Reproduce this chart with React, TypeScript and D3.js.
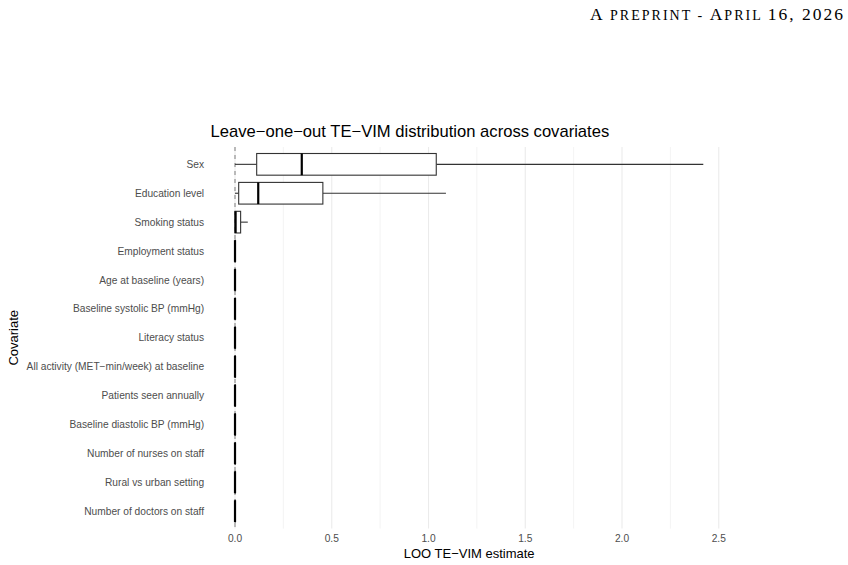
import { useEffect, useRef } from "react";
import * as d3 from "d3";

// covariates, top to bottom
const covariates = [
  "Sex",
  "Education level",
  "Smoking status",
  "Employment status",
  "Age at baseline (years)",
  "Baseline systolic BP (mmHg)",
  "Literacy status",
  "All activity (MET\u2212min/week) at baseline",
  "Patients seen annually",
  "Baseline diastolic BP (mmHg)",
  "Number of nurses on staff",
  "Rural vs urban setting",
  "Number of doctors on staff",
];

// box stats
const whiskerLow = [0.0, 0.0, 0.0, 0, 0, 0, 0, 0, 0, 0, 0, 0, 0];
const q1 = [0.112, 0.019, 0.0, 0, 0, 0, 0, 0, 0, 0, 0, 0, 0];
const median = [0.345, 0.12, 0.003, 0, 0, 0, 0, 0, 0, 0, 0, 0, 0];
const q3 = [1.04, 0.454, 0.029, 0.002, 0.002, 0.002, 0.002, 0.002, 0.002, 0.002, 0.002, 0.002, 0.002];
const whiskerHigh = [2.42, 1.09, 0.066, 0.002, 0.002, 0.002, 0.002, 0.002, 0.002, 0.002, 0.002, 0.002, 0.002];

const xTicks = [0, 0.5, 1.0, 1.5, 2.0, 2.5];
const xMinor = [0.25, 0.75, 1.25, 1.75, 2.25];

const App = () => {
  const ref = useRef<SVGSVGElement>(null);

  useEffect(() => {
    const svg = d3.select(ref.current);
    svg.selectAll("*").remove();

    const panel = { left: 211.6, right: 726.7, top: 147, bottom: 528.5 };
    const font = "Liberation Sans, Arial, Helvetica, sans-serif";

    // header, small caps done by hand
    const head = svg
      .append("text")
      .attr("x", 843)
      .attr("y", 20)
      .attr("text-anchor", "end")
      .attr("font-family", "Liberation Serif, Times New Roman, serif")
      .attr("fill", "#000")
      .attr("textLength", 253)
      .attr("lengthAdjust", "spacing");
    const parts: [string, number][] = [
      ["A ", 17.5],
      ["PREPRINT - ", 14],
      ["A", 17.5],
      ["PRIL ", 14],
      ["16, 2026", 17.5],
    ];
    parts.forEach(([t, s]) => head.append("tspan").attr("font-size", s).text(t));

    const dataMax = d3.max(whiskerHigh) as number;
    const pad = dataMax * 0.05;
    const x = d3
      .scaleLinear()
      .domain([0 - pad, dataMax + pad])
      .range([panel.left, panel.right]);

    // ggplot discrete expansion: 0.6 units each side
    const unit = (panel.bottom - panel.top) / (covariates.length - 1 + 1.2);
    const yc = (i: number) => panel.top + unit * (0.6 + i);

    const g = svg.append("g");

    // grid
    g.selectAll("line.minor")
      .data(xMinor)
      .join("line")
      .attr("x1", (d) => x(d))
      .attr("x2", (d) => x(d))
      .attr("y1", panel.top)
      .attr("y2", panel.bottom)
      .attr("stroke", "#ebebeb")
      .attr("stroke-width", 0.6);
    g.selectAll("line.major")
      .data(xTicks)
      .join("line")
      .attr("x1", (d) => x(d))
      .attr("x2", (d) => x(d))
      .attr("y1", panel.top)
      .attr("y2", panel.bottom)
      .attr("stroke", "#ebebeb")
      .attr("stroke-width", 1.1);

    // reference line at 0
    g.append("line")
      .attr("x1", x(0))
      .attr("x2", x(0))
      .attr("y1", panel.top)
      .attr("y2", panel.bottom)
      .attr("stroke", "#7f7f7f")
      .attr("stroke-width", 1)
      .attr("stroke-dasharray", "4,4");

    const boxH = unit * 0.75;
    const rows = covariates.map((c, i) => ({
      c,
      i,
      lo: whiskerLow[i],
      q1: q1[i],
      med: median[i],
      q3: q3[i],
      hi: whiskerHigh[i],
    }));

    const box = g.selectAll("g.box").data(rows).join("g");
    box
      .append("line")
      .attr("x1", (d) => x(d.lo))
      .attr("x2", (d) => x(d.q1))
      .attr("y1", (d) => yc(d.i))
      .attr("y2", (d) => yc(d.i))
      .attr("stroke", "#333")
      .attr("stroke-width", 1.1);
    box
      .append("line")
      .attr("x1", (d) => x(d.q3))
      .attr("x2", (d) => x(d.hi))
      .attr("y1", (d) => yc(d.i))
      .attr("y2", (d) => yc(d.i))
      .attr("stroke", "#333")
      .attr("stroke-width", 1.1);
    box
      .append("rect")
      .attr("x", (d) => x(d.q1))
      .attr("width", (d) => x(d.q3) - x(d.q1))
      .attr("y", (d) => yc(d.i) - boxH / 2)
      .attr("height", boxH)
      .attr("fill", "#fff")
      .attr("stroke", "#333")
      .attr("stroke-width", 1.1);
    box
      .append("line")
      .attr("x1", (d) => x(d.med))
      .attr("x2", (d) => x(d.med))
      .attr("y1", (d) => yc(d.i) - boxH / 2)
      .attr("y2", (d) => yc(d.i) + boxH / 2)
      .attr("stroke", "#000")
      .attr("stroke-width", 2.2);

    // y labels
    g.selectAll("text.ylab")
      .data(covariates)
      .join("text")
      .attr("x", panel.left - 7.5)
      .attr("y", (_, i) => yc(i))
      .attr("dy", "0.35em")
      .attr("text-anchor", "end")
      .attr("font-family", font)
      .attr("font-size", 10.2)
      .attr("fill", "#4d4d4d")
      .text((d) => d);

    // x tick labels
    g.selectAll("text.xlab")
      .data(xTicks)
      .join("text")
      .attr("x", (d) => x(d))
      .attr("y", panel.bottom + 13.5)
      .attr("text-anchor", "middle")
      .attr("font-family", font)
      .attr("font-size", 10.2)
      .attr("fill", "#4d4d4d")
      .text((d) => d3.format(".1f")(d));

    // axis titles
    svg
      .append("text")
      .attr("x", (panel.left + panel.right) / 2)
      .attr("y", 558)
      .attr("text-anchor", "middle")
      .attr("font-family", font)
      .attr("font-size", 13)
      .attr("fill", "#000")
      .text("LOO TE\u2212VIM estimate");

    svg
      .append("text")
      .attr("transform", `translate(17.5,${(panel.top + panel.bottom) / 2}) rotate(-90)`)
      .attr("text-anchor", "middle")
      .attr("font-family", font)
      .attr("font-size", 13)
      .attr("fill", "#000")
      .text("Covariate");

    svg
      .append("text")
      .attr("x", panel.left - 1)
      .attr("y", 137)
      .attr("font-family", font)
      .attr("font-size", 16.6)
      .attr("fill", "#000")
      .text("Leave\u2212one\u2212out TE\u2212VIM distribution across covariates");
  }, []);

  return (
    <svg
      ref={ref}
      width={848}
      height={565}
      style={{ position: "absolute", left: 0, top: 0, background: "#fff" }}
    />
  );
};

export default App;
